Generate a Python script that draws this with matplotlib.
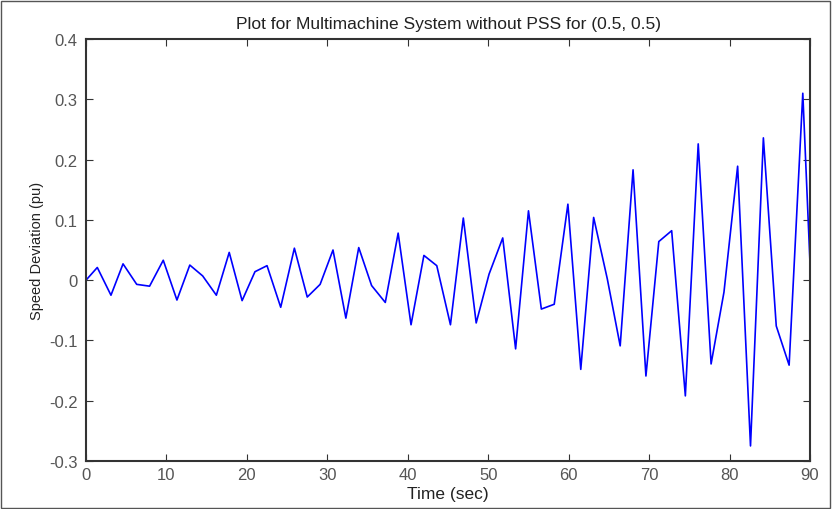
import matplotlib.pyplot as plt
from matplotlib.patches import Rectangle

# time samples (sec) and speed deviation (pu)
time_s = [0.0, 1.4, 3.1, 4.6, 6.3, 7.9, 9.6, 11.3, 12.9, 14.5, 16.2, 17.8, 19.4, 21.0,
          22.5, 24.2, 25.9, 27.5, 29.1, 30.7, 32.3, 33.9, 35.5, 37.2, 38.8, 40.4, 42.0,
          43.6, 45.3, 46.9, 48.5, 50.1, 51.8, 53.4, 55.0, 56.6, 58.2, 59.9, 61.5, 63.1,
          64.8, 66.4, 68.0, 69.6, 71.2, 72.8, 74.5, 76.1, 77.7, 79.3, 81.0, 82.6, 84.2,
          85.8, 87.4, 89.1, 90.0]
speed_dev = [0.0, 0.021, -0.025, 0.027, -0.007, -0.010, 0.033, -0.033, 0.025, 0.007,
             -0.025, 0.046, -0.034, 0.014, 0.024, -0.045, 0.053, -0.028, -0.007, 0.050,
             -0.063, 0.054, -0.009, -0.037, 0.078, -0.074, 0.041, 0.024, -0.074, 0.103,
             -0.071, 0.010, 0.070, -0.114, 0.115, -0.048, -0.040, 0.126, -0.148, 0.104,
             0.002, -0.109, 0.183, -0.159, 0.064, 0.082, -0.192, 0.226, -0.139, -0.020,
             0.189, -0.275, 0.236, -0.076, -0.141, 0.310, 0.027]

xticks = [0, 10, 20, 30, 40, 50, 60, 70, 80, 90]
yticks = [-0.3, -0.2, -0.1, 0, 0.1, 0.2, 0.3, 0.4]
ytick_labels = ['-0.3', '-0.2', '-0.1', '0', '0.1', '0.2', '0.3', '0.4']

plt.rcParams['font.family'] = ['Liberation Sans', 'DejaVu Sans']

fig = plt.figure(figsize=(8.32, 5.10), dpi=100)
ax = fig.add_axes([0.1034, 0.0941, 0.8702, 0.8275])

ax.plot(time_s, speed_dev, color='#0000ff', linewidth=1.2)

ax.set_xlim(0, 90)
ax.set_ylim(-0.3, 0.4)
ax.set_xticks(xticks)
ax.set_yticks(yticks)
ax.set_yticklabels(ytick_labels)
ax.tick_params(direction='in', top=True, right=True, length=5, width=0.8,
               labelsize=12, colors='#333333', labelcolor='#555555')
ax.tick_params(axis='y', pad=6)
ax.tick_params(axis='x', pad=4)
for s in ax.spines.values():
    s.set_linewidth(1.5)
    s.set_color('#333333')

ax.set_title('Plot for Multimachine System without PSS for (0.5, 0.5)', fontsize=12.5,
             color='#222222', pad=8)
ax.set_xlabel('Time (sec)', fontsize=12.5, color='#222222', labelpad=3)
ax.set_ylabel('Speed Deviation (pu)', fontsize=10.5, color='#222222', labelpad=4)

# thin frame around the whole picture
fig.patches.append(Rectangle((0.001, 0.001), 0.997, 0.996, transform=fig.transFigure,
                             fill=False, edgecolor='#555555', linewidth=1.0))

fig.savefig('out.png', dpi=100)
